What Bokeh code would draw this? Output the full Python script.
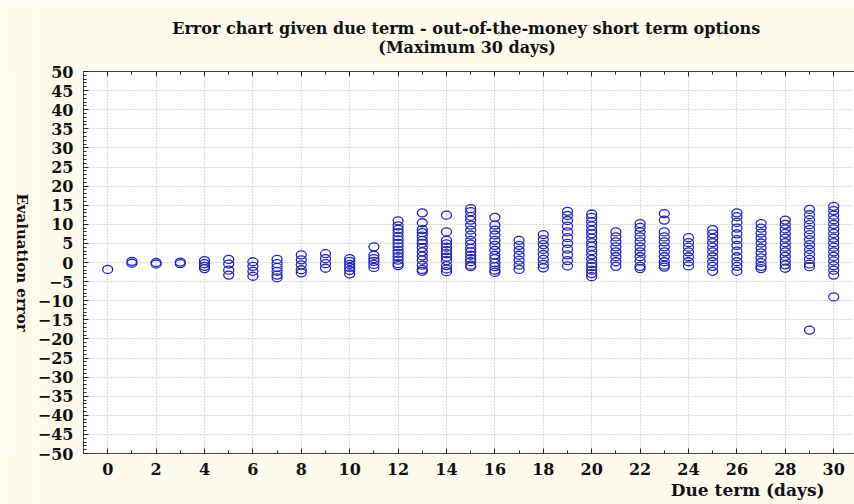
from bokeh.plotting import figure
from bokeh.layouts import row
from bokeh.models import Range1d, LinearAxis, FixedTicker, Title, ColumnDataSource
from bokeh.embed import file_html
from bokeh.resources import INLINE

TITLE_1 = "Error chart given due term -  out-of-the-money short term options"
TITLE_2 = "(Maximum 30 days)"
X_LABEL = "Due term (days)"
Y_LABEL = "Evaluation error"

x_major_ticks = list(range(0, 31, 2))
x_minor_ticks = list(range(-1, 32))
y_major_ticks = list(range(-50, 51, 5))
y_minor_ticks = list(range(-50, 51))

# evaluation errors observed for each due term (days)
err_d00 = [-1.8]
err_d01 = [0.3, -0.2]
err_d02 = [0.0, -0.4]
err_d03 = [0.1, -0.3]
err_d04 = [0.5, -0.3, -1.0, -1.6]
err_d05 = [0.8, -0.4, -2.0, -3.3]
err_d06 = [0.2, -1.0, -2.3, -3.6]
err_d07 = [0.8, -0.3, -1.3, -2.3, -3.3, -4.0]
err_d08 = [2.0, 0.7, -0.6, -1.9, -2.7]
err_d09 = [2.3, 1.0, -0.3, -1.5]
err_d10 = [1.0, 0.3, -0.5, -1.3, -2.1, -3.0]
err_d11 = [4.1, 1.9, 1.0, 0.3, -0.5, -1.3]
err_d12 = [10.9, 9.6, 8.7, 7.8, 6.8, 5.9, 5.0, 4.1, 3.2, 2.4, 1.5, 0.6, -0.3, -0.8]
err_d13 = [13.0, 10.4, 8.6, 7.8, 6.9, 5.8, 5.0, 3.9, 2.8, 1.7, 0.6, -0.7, -1.8, -2.3]
err_d14 = [12.4, 8.0, 5.8, 4.9, 4.0, 3.1, 2.3, 1.4, 0.5, -0.8, -1.7, -2.4]
err_d15 = [14.1, 13.3, 12.1, 11.1, 9.8, 8.5, 7.2, 5.8, 4.8, 3.7, 2.8, 1.9, 1.0, 0.2, -0.7, -1.1]
err_d16 = [11.8, 9.8, 8.5, 7.2, 5.8, 4.5, 3.2, 1.9, 1.0, -0.1, -1.1, -2.0, -2.6]
err_d17 = [5.8, 4.5, 3.2, 1.9, 0.6, -0.7, -1.8]
err_d18 = [7.3, 6.0, 4.7, 3.4, 2.1, 0.8, -0.5, -1.4]
err_d19 = [13.4, 12.3, 11.0, 9.5, 8.0, 6.5, 5.0, 3.5, 2.0, 0.5, -0.9]
err_d20 = [12.7, 11.8, 10.7, 9.6, 8.5, 7.5, 6.4, 5.2, 4.2, 3.1, 2.0, 0.8, -0.3, -1.1, -2.0, -2.9, -3.7]
err_d21 = [8.0, 6.7, 5.4, 4.1, 2.8, 1.5, 0.2, -1.0]
err_d22 = [10.2, 9.2, 8.0, 6.7, 5.4, 4.1, 2.8, 1.5, 0.4, -1.0, -1.6]
err_d23 = [12.8, 11.1, 8.0, 6.7, 5.4, 4.1, 2.8, 1.5, 0.2, -0.7, -1.2]
err_d24 = [6.5, 5.2, 4.0, 2.8, 1.5, 0.2, -0.9]
err_d25 = [8.6, 7.5, 6.4, 5.2, 4.0, 2.8, 1.5, 0.2, -1.0, -2.3]
err_d26 = [13.0, 12.0, 10.5, 9.0, 7.5, 6.0, 4.5, 3.0, 1.5, 0.2, -1.0, -2.3]
err_d27 = [10.2, 9.0, 7.7, 6.4, 5.1, 3.8, 2.5, 1.2, 0.0, -1.0, -1.6]
err_d28 = [11.1, 10.0, 8.8, 7.6, 6.4, 5.2, 4.0, 2.8, 1.6, 0.4, -0.6, -1.5]
err_d29 = [13.9, 12.5, 11.2, 9.9, 8.6, 7.3, 6.0, 4.7, 3.4, 2.1, 0.8, -0.4, -1.1, -17.7]
err_d30 = [14.7, 13.6, 12.4, 11.2, 10.0, 8.8, 7.6, 6.4, 5.2, 4.0, 2.8, 1.6, 0.4, -0.8, -2.0, -3.3, -9.0]

days = list(range(31))
errors_by_day = [err_d00, err_d01, err_d02, err_d03, err_d04, err_d05, err_d06, err_d07,
                 err_d08, err_d09, err_d10, err_d11, err_d12, err_d13, err_d14, err_d15,
                 err_d16, err_d17, err_d18, err_d19, err_d20, err_d21, err_d22, err_d23,
                 err_d24, err_d25, err_d26, err_d27, err_d28, err_d29, err_d30]

xs, ys = [], []
for d, errs in zip(days, errors_by_day):
    xs.extend([d] * len(errs))
    ys.extend(errs)
src = ColumnDataSource(data=dict(x=xs, y=ys))

SERIF = "DejaVu Serif"
CREAM = "#fdfaee"
INK = "#111111"
LABEL_W = 32

# narrow strip on the left that carries the top-to-bottom y-axis title
pl = figure(width=LABEL_W, height=504, output_backend="svg", toolbar_location=None,
            x_axis_location=None, y_axis_location=None,
            min_border_left=0, min_border_right=4, min_border_top=71, min_border_bottom=51,
            background_fill_color=CREAM, border_fill_color=CREAM, outline_line_color=None)
pl.title = None
pl.xgrid.visible = False
pl.ygrid.visible = False
pl.add_layout(Title(text=Y_LABEL, text_font=SERIF, text_font_style="bold", text_font_size="15px",
                    text_color=INK, align="center", standoff=0), "right")

p = figure(width=854 - LABEL_W, height=504, output_backend="svg", toolbar_location=None,
           x_range=Range1d(-1, 30.86), y_range=Range1d(-50, 50),
           min_border_left=83 - LABEL_W, min_border_right=0, min_border_top=71, min_border_bottom=51,
           background_fill_color="white", border_fill_color=CREAM,
           outline_line_color=None)
p.title = None

def style_axis(ax, ticker, standoff=8):
    ax.ticker = ticker
    ax.axis_line_color = "#444444"
    ax.axis_line_width = 1
    ax.major_tick_in = 5
    ax.major_tick_out = 0
    ax.minor_tick_in = 3
    ax.minor_tick_out = 0
    ax.major_tick_line_color = "#222222"
    ax.minor_tick_line_color = "#222222"
    ax.major_label_text_font = SERIF
    ax.major_label_text_font_style = "bold"
    ax.major_label_text_font_size = "16px"
    ax.major_label_text_color = INK
    ax.major_label_standoff = standoff

style_axis(p.xaxis[0], FixedTicker(ticks=x_major_ticks, minor_ticks=x_minor_ticks), standoff=9)
style_axis(p.yaxis[0], FixedTicker(ticks=y_major_ticks, minor_ticks=y_minor_ticks), standoff=10)

top_axis = LinearAxis()
style_axis(top_axis, FixedTicker(ticks=x_major_ticks, minor_ticks=x_minor_ticks), standoff=0)
top_axis.major_label_overrides = {t: "" for t in x_major_ticks}
p.add_layout(top_axis, "above")

# two-line title; the second line is padded with no-break spaces so it sits centred
pad = "\u00a0" * 37
p.add_layout(Title(text=TITLE_1 + "\n" + pad + TITLE_2, text_font=SERIF, text_font_style="bold",
                   text_font_size="16px", text_color=INK, align="center", standoff=30), "above")

p.add_layout(Title(text=X_LABEL, text_font=SERIF, text_font_style="bold", text_font_size="17px",
                   text_color=INK, align="right", offset=30, standoff=0), "below")

for g in (p.xgrid[0], p.ygrid[0]):
    g.grid_line_color = "#b8b8b8"
    g.grid_line_dash = "1 2"
    g.grid_line_width = 1

p.ellipse(x="x", y="y", width=10, height=8, width_units="screen", height_units="screen",
          fill_color=None, line_color="#2424c4", line_width=1.3, source=src)

layout = row(pl, p, spacing=0)
open("out.html", "w").write(file_html(layout, INLINE))
